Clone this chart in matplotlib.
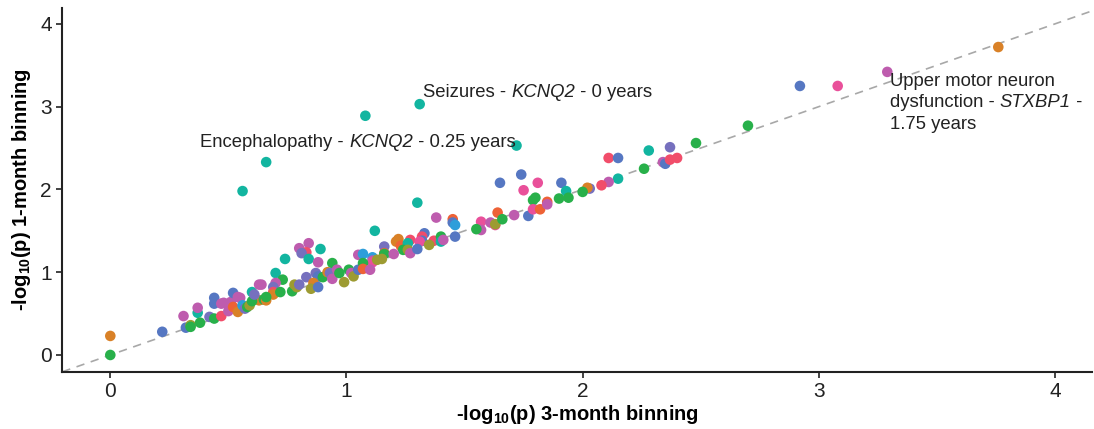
import matplotlib
matplotlib.use('Agg')
import matplotlib.pyplot as plt
from matplotlib.offsetbox import TextArea, HPacker, VPacker, AnnotationBbox

plt.rcParams['font.family'] = ['Liberation Sans', 'DejaVu Sans']
plt.rcParams['mathtext.fontset'] = 'custom'
plt.rcParams['mathtext.rm'] = 'Liberation Sans'
plt.rcParams['mathtext.it'] = 'Liberation Sans:italic'
plt.rcParams['mathtext.bf'] = 'Liberation Sans:bold'

# colour codes used for the groups
palette = {
    'O': '#D98127', 'G': '#28B04A', 'B': '#5677C2', 'T': '#12B5A0',
    'P': '#E9509A', 'R': '#F14D6A', 'M': '#BE5CAE', 'V': '#7670BE',
    'L': '#9D9B32', 'E': '#EE6236', 'S': '#2E9EDA',
}

# -log10(p), 3-month binning
x3 = [0.00, 0.00, 0.22, 0.56, 0.66, 1.08, 1.31, 1.72, 1.65, 1.74, 1.81, 1.91, 1.75, 1.93,
      2.11, 2.15, 2.28, 2.37, 2.48, 2.70, 2.92, 3.08, 3.29, 3.76, 2.26, 2.34, 2.35, 2.37,
      2.40, 2.15, 2.11, 2.08, 2.03, 2.02, 2.00, 1.94, 1.90, 1.79, 1.80, 1.64, 1.71, 1.77,
      1.79, 1.82, 1.85, 1.85, 1.57, 1.61, 1.63, 1.63, 1.66, 1.57, 1.30, 1.38, 1.12, 1.45,
      1.45, 1.46, 1.46, 1.55, 1.22, 1.21, 1.27, 1.23, 1.33, 1.32, 1.32, 1.31, 1.37, 1.40,
      1.40, 1.41, 1.35, 1.26, 1.24, 1.26, 1.27, 1.30, 1.16, 1.16, 1.16, 1.20, 1.11, 1.11,
      1.15, 0.80, 0.84, 0.83, 0.81, 0.89, 0.74, 0.84, 0.88, 0.94, 0.70, 0.73, 0.70, 0.69,
      0.64, 0.69, 0.69, 0.72, 0.77, 0.78, 0.79, 0.80, 0.83, 0.87, 0.88, 0.90, 0.86, 0.85,
      0.88, 0.92, 0.93, 0.94, 0.96, 0.97, 0.99, 1.01, 1.02, 1.03, 1.05, 1.05, 1.07, 1.11,
      1.07, 1.07, 1.10, 1.13, 0.63, 0.65, 0.31, 0.37, 0.37, 0.44, 0.44, 0.32, 0.34, 0.34,
      0.38, 0.42, 0.44, 0.47, 0.47, 0.48, 0.51, 0.52, 0.54, 0.55, 0.50, 0.52, 0.54, 0.56,
      0.57, 0.58, 0.59, 0.60, 0.60, 0.61, 0.63, 0.66, 0.66]
# -log10(p), 1-month binning
y1 = [0.23, 0.00, 0.28, 1.98, 2.33, 2.89, 3.03, 2.53, 2.08, 2.18, 2.08, 2.08, 1.99, 1.98,
      2.38, 2.38, 2.47, 2.51, 2.56, 2.77, 3.25, 3.25, 3.42, 3.72, 2.25, 2.33, 2.31, 2.36,
      2.38, 2.13, 2.09, 2.05, 2.01, 2.02, 1.97, 1.90, 1.89, 1.87, 1.90, 1.72, 1.69, 1.68,
      1.76, 1.76, 1.85, 1.82, 1.61, 1.60, 1.57, 1.58, 1.64, 1.51, 1.84, 1.66, 1.50, 1.64,
      1.60, 1.57, 1.43, 1.52, 1.40, 1.37, 1.39, 1.32, 1.47, 1.43, 1.38, 1.37, 1.38, 1.43,
      1.37, 1.39, 1.33, 1.35, 1.27, 1.27, 1.23, 1.28, 1.31, 1.23, 1.22, 1.22, 1.18, 1.14,
      1.16, 1.29, 1.35, 1.24, 1.23, 1.28, 1.16, 1.16, 1.12, 1.11, 0.99, 0.91, 0.87, 0.82,
      0.85, 0.76, 0.73, 0.76, 0.77, 0.85, 0.82, 0.85, 0.94, 0.99, 0.95, 0.94, 0.87, 0.80,
      0.82, 1.00, 0.99, 0.92, 1.03, 0.99, 0.88, 1.03, 0.99, 0.95, 1.03, 1.21, 1.22, 1.12,
      1.11, 1.04, 1.03, 1.15, 0.66, 0.67, 0.47, 0.51, 0.57, 0.69, 0.62, 0.33, 0.36, 0.34,
      0.39, 0.46, 0.44, 0.47, 0.62, 0.63, 0.64, 0.75, 0.70, 0.69, 0.53, 0.58, 0.52, 0.60,
      0.56, 0.58, 0.60, 0.65, 0.76, 0.73, 0.85, 0.66, 0.70]
groups = list('OGBTTTTTBBPBPT'
              'RBTVGGBPMOGMBR'
              'RTMRVOGGGGGEMB'
              'PEEMPMPLGMTMTE'
              'BSBGOOREBRBPRG'
              'TMLTGLMBVEGMSM'
              'LMMRVTTTMGTGMV'
              'MROGGLLVVVBGOL'
              'BOVMMGLGMLBMSP'
              'GEMLOGMTMBBBLG'
              'GVGRMMMBMMMEOS'
              'VGLGTVMOG')

# labelled points: (pieces of each line, x, y)
labels = [
    ([['Seizures - ', '*KCNQ2', ' - 0 years']], 1.325, 3.165),
    ([['Encephalopathy - ', '*KCNQ2', ' - 0.25 years']], 0.381, 2.57),
    ([['Upper motor neuron'], ['dysfunction - ', '*STXBP1', ' -'], ['1.75 years']], 3.30, 3.045),
]

fig, ax = plt.subplots(figsize=(10.94, 4.29), dpi=100)
fig.subplots_adjust(left=0.057, right=0.998, bottom=0.133, top=0.981)

ax.axline((0, 0), slope=1, color='#a8a8a8', linestyle=(0, (5, 4)), linewidth=1.2, zorder=1)
ax.scatter(x3, y1, c=[palette[g] for g in groups], s=58, linewidths=0, zorder=2)

for lines, lx, ly in labels:
    rows = []
    for pieces in lines:
        parts = []
        for p in pieces:
            style = 'italic' if p.startswith('*') else 'normal'
            parts.append(TextArea(p.lstrip('*'), textprops=dict(fontsize=13.3, color='#222222', fontstyle=style)))
        rows.append(HPacker(children=parts, pad=0, sep=0, align='baseline'))
    box = VPacker(children=rows, pad=0, sep=3.5, align='left')
    ax.add_artist(AnnotationBbox(box, (lx, ly), xycoords='data', frameon=False,
                                 box_alignment=(0, 0.5), pad=0, zorder=3))

ax.set_xlim(-0.203, 4.156)
ax.set_ylim(-0.205, 4.19)
ax.set_xticks([0, 1, 2, 3, 4])
ax.set_yticks([0, 1, 2, 3, 4])
ax.tick_params(labelsize=15, length=4, width=1.2, colors='#222222')
for side in ['top', 'right']:
    ax.spines[side].set_visible(False)
for side in ['left', 'bottom']:
    ax.spines[side].set_linewidth(1.5)
    ax.spines[side].set_color('#222222')

ax.set_xlabel(r'-log$_{\mathbf{10}}$(p) 3-month binning', fontsize=14.5, fontweight='bold', labelpad=1)
ax.set_ylabel(r'-log$_{\mathbf{10}}$(p) 1-month binning', fontsize=14.5, fontweight='bold', labelpad=5)

fig.savefig('out.png', dpi=100)
